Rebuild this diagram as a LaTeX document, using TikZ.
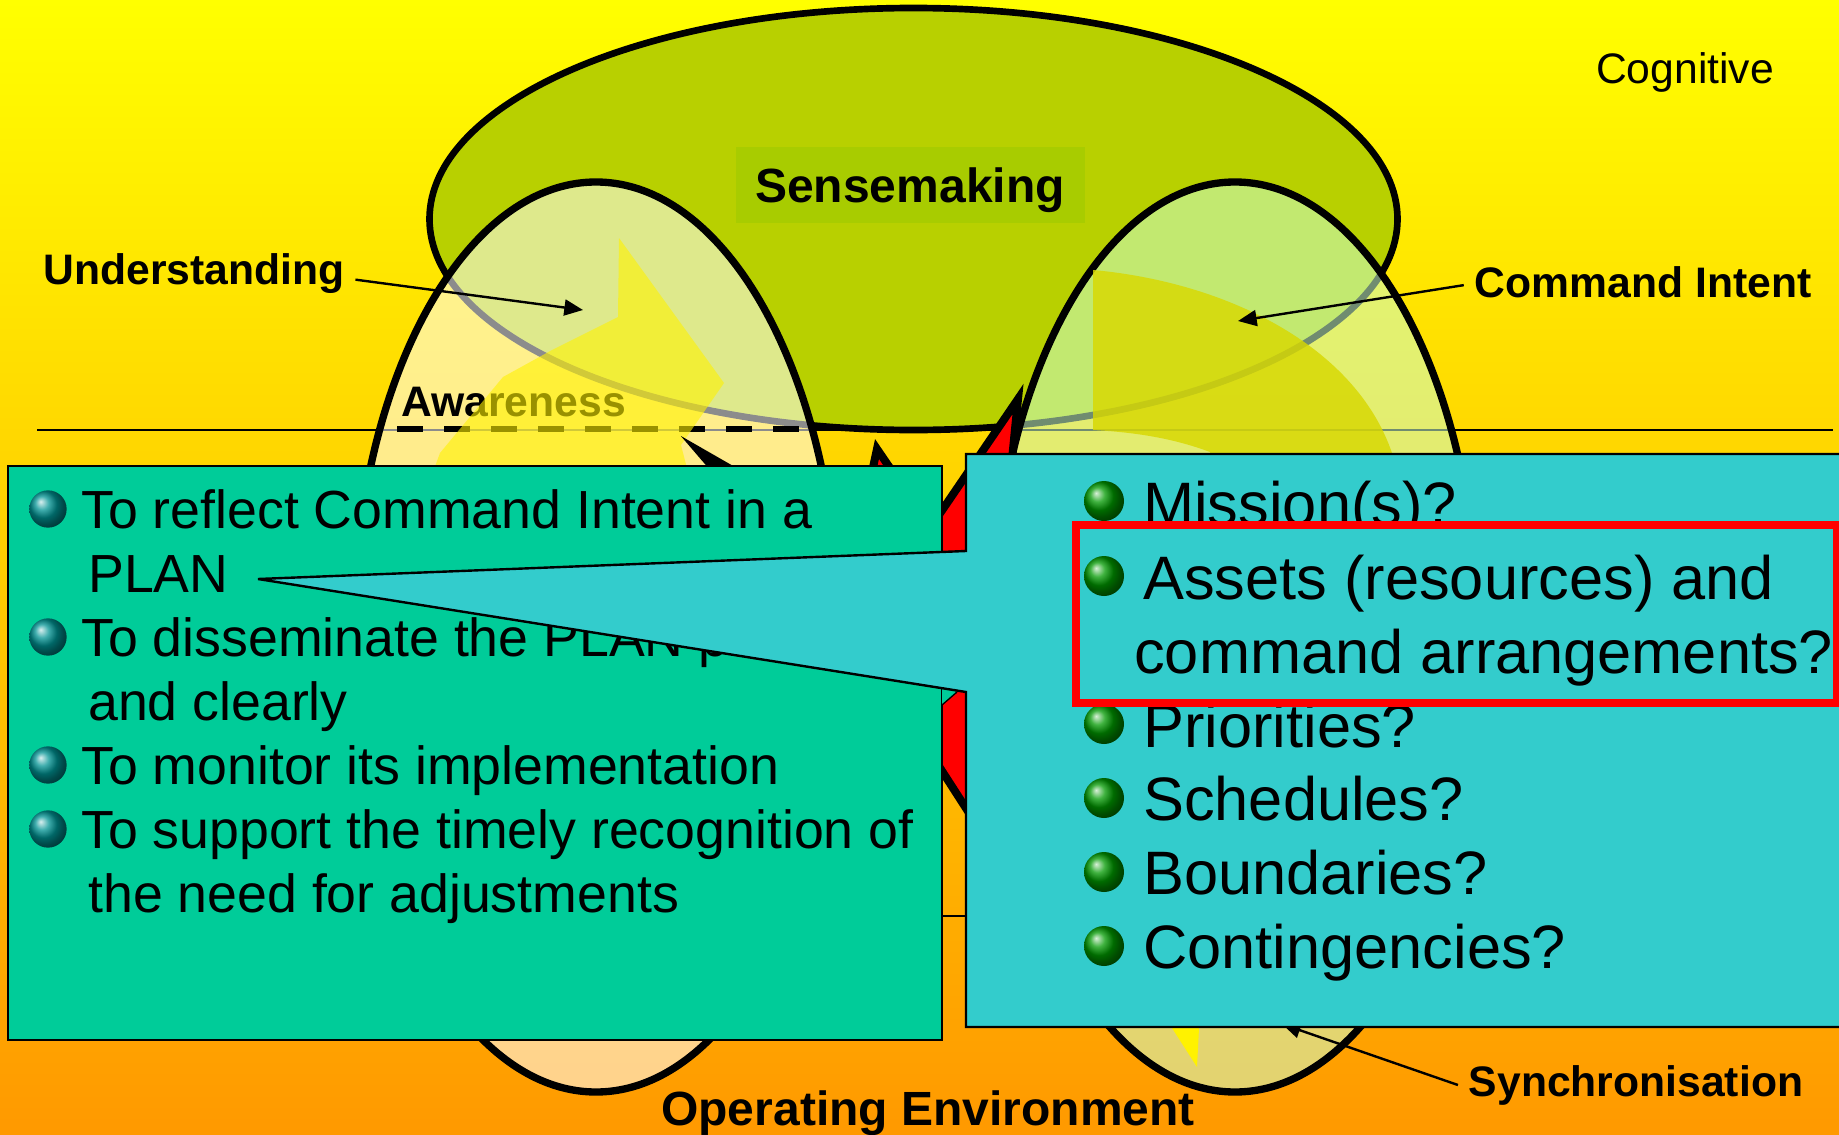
\documentclass[tikz,border=0pt]{standalone}
\usepackage{fontspec}
\setmainfont{Liberation Sans}
\usepackage{tikz}
\usetikzlibrary{arrows.meta}
\definecolor{bgyellow}{RGB}{255,255,0}
\definecolor{bgorange}{RGB}{255,153,0}
\definecolor{sensefill}{RGB}{184,208,0}
\definecolor{senselabel}{RGB}{168,204,0}
\definecolor{greenbox}{RGB}{0,204,153}
\definecolor{tealbox}{RGB}{51,204,204}
\definecolor{intentyellow}{RGB}{216,216,0}
\tikzset{
  lobe/.style={draw=black,line width=5.5pt,fill opacity=0.55},
  sensetext/.style={font=\fontsize{36}{40}\selectfont\bfseries,inner sep=0pt},
  sidelabel/.style={font=\fontsize{32}{36}\selectfont\bfseries,inner sep=8pt},
  pointer/.style={line width=1.8pt,-{Triangle[length=14pt,width=12pt]}},
  leftitem/.style={anchor=base west,inner sep=0pt,font=\fontsize{40.25}{48}\selectfont},
  rightitem/.style={anchor=base west,inner sep=0pt,font=\fontsize{46}{54}\selectfont},
  tealbullet/.style={circle,inner sep=0pt,minimum size=28pt,shading=ball,ball color=teal!85!cyan},
  greenbullet/.style={circle,inner sep=0pt,minimum size=30pt,shading=ball,ball color=green!60!black},
}

\begin{document}
\begin{tikzpicture}[x=0.75pt,y=0.75pt,yscale=-1,xscale=1]
\useasboundingbox (0,0) rectangle (1839,1135);

%Shape: Rectangle
\shade [top color=bgyellow,bottom color=bgorange] (0,0) rectangle (1839,1135);
%Straight Lines
\draw [line width=1.5pt] (37,429.5) -- (1833,429.5);
\draw [line width=1.5pt] (37,916) -- (1833,916);

%Shape: Ellipse
\draw [fill=sensefill,line width=5pt] (913.5,219) ellipse [x radius=484,y radius=211];
%Shape: Rectangle
\fill [senselabel] (736,147) rectangle (1085,223);

%Shape: Ellipse
\draw [lobe,fill=white] (596,637) ellipse [x radius=243,y radius=455];
%Shape: Ellipse
\draw [lobe,fill={rgb, 255:red, 204; green, 255; blue, 204}] (1235,637) ellipse [x radius=243,y radius=455];

% Text Node
\draw (910,190) node (sensemaking) [sensetext] {Sensemaking};
% Text Node
\draw (401,416) node (awareness) [anchor=base west,inner sep=0pt,font=\fontsize{32}{36}\selectfont\bfseries] {Awareness};
%Straight Lines
\draw [line width=4.5pt,dash pattern=on 19.5pt off 15.75pt] (397,429) -- (809,429);

%Shape: Polygon
\fill [yellow,opacity=0.6] (619,238) -- (724,383) -- (681,445) -- (690,480) -- (430,480) -- (440,453) -- (503,377) -- (552,350) -- (618,317) -- cycle;
%Curve Lines
\fill [intentyellow,opacity=0.82] (1093,270) .. controls (1225,282) and (1355,345) .. (1392,453) -- (1392,480) -- (1210,480) -- (1210,452) .. controls (1170,437) and (1130,432) .. (1093,430) -- cycle;
%Shape: Polygon
\fill [yellow] (1172,1028) -- (1199,1028) -- (1197,1067) -- cycle;

%Shape: Polygon
\draw [fill=red,line width=6pt,miter limit=25] (699,451) -- (760,486) -- (866,500) -- (877,449) -- (905,490) -- (930,528) -- (1018,399) -- (1006,520) -- (1040,660) -- (1000,861) -- (942,771) -- (905,714) -- (800,700) -- (760,522) -- cycle;

% Text Node
\draw (1685,72) node (cognitive) [inner sep=0pt,font=\fontsize{32}{36}\selectfont] {Cognitive};
% Text Node
\draw (194,274) node (understanding) [sidelabel] {Understanding};
% Text Node
\draw (1643,282) node (commandintent) [sidelabel] {Command Intent};
% Text Node
\draw (1636,1085) node (synchronisation) [sidelabel] {Synchronisation};
% Text Node
\draw (928,1113) node (operating) [sensetext] {Operating Environment};

\coordinate (understandingtip) at (583,310);
\coordinate (intenttip) at (1238,321);
\coordinate (synctip) at (1282,1024);
%Straight Lines
\draw [pointer] (understanding.-2) -- (understandingtip);
%Straight Lines
\draw [pointer] (commandintent.181.3) -- (intenttip);
%Straight Lines
\draw [pointer] (synchronisation.west) -- (synctip);

%Shape: Rectangle
\draw [fill=greenbox,line width=1.8pt] (8,466) rectangle (942,1040);
\fill [greenbox] (942,686) -- (957,692) -- (942,705) -- cycle;
\draw [line width=1pt] (957,692) -- (942,705);

% Text Node
\draw (81,528) node (reflect) [leftitem] {To reflect Command Intent in a};
% Text Node
\draw (88,592) node (plan) [leftitem] {PLAN};
% Text Node
\draw (81,656) node (disseminate) [leftitem] {To disseminate the PLAN p};
% Text Node
\draw (88,720) node (clearly) [leftitem] {and clearly};
% Text Node
\draw (81,784) node (monitor) [leftitem] {To monitor its implementation};
% Text Node
\draw (81,848) node (recognition) [leftitem] {To support the timely recognition of};
% Text Node
\draw (88,912) node (adjustments) [leftitem] {the need for adjustments};
%Shape: Circle
\node (bulleta) [tealbullet] at (48,509) {};
\node (bulletb) [tealbullet] at (48,637) {};
\node (bulletc) [tealbullet] at (48,765) {};
\node (bulletd) [tealbullet] at (48,829) {};

%Shape: Polygon
\draw [fill=tealbox,line width=1.8pt] (1850,454) -- (966,454) -- (966,551) -- (258,579) -- (966,692) -- (966,1027) -- (1850,1027) -- cycle;

% Text Node
\draw (1143,525) node (mission) [rightitem] {Mission(s)?};
% Text Node
\draw (1143,747) node (priorities) [rightitem] {Priorities?};
% Text Node
\draw (1143,820) node (schedules) [rightitem] {Schedules?};
% Text Node
\draw (1143,894) node (boundaries) [rightitem] {Boundaries?};
% Text Node
\draw (1143,968) node (contingencies) [rightitem] {Contingencies?};
%Shape: Circle
\node (bulletm) [greenbullet] at (1104,501) {};
\node (bulletp) [greenbullet] at (1104,724) {};
\node (bullets) [greenbullet] at (1104,798) {};
\node (bulletn) [greenbullet] at (1104,872) {};
\node (bulletg) [greenbullet] at (1104,946) {};

%Shape: Rectangle
\draw [draw=red,fill=tealbox,line width=6pt] (1076,525) rectangle (1837,703);
% Text Node
\draw (1143,599) node (assets) [rightitem] {Assets (resources) and};
% Text Node
\draw (1134,673) node (arrangements) [rightitem] {command arrangements?};
\node (bulletr) [greenbullet] at (1104,576) {};

\end{tikzpicture}
\end{document}
